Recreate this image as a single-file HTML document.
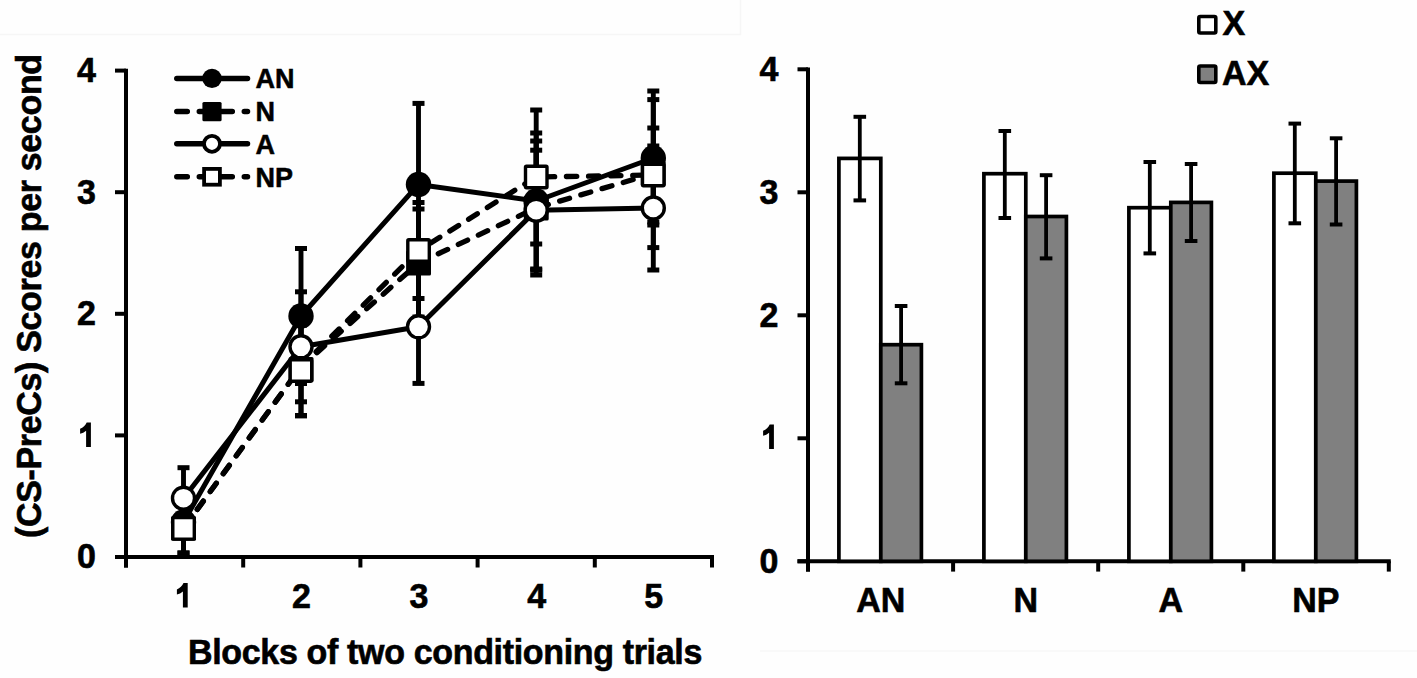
<!DOCTYPE html>
<html><head><meta charset="utf-8"><style>
html,body{margin:0;padding:0;background:#fff;}
svg{display:block;}
.ax{font-family:"Liberation Sans", sans-serif;font-weight:bold;font-size:34px;fill:#000;stroke:#000;stroke-width:0.6px;}
.lg{font-family:"Liberation Sans", sans-serif;font-weight:bold;font-size:27px;fill:#000;stroke:#000;stroke-width:0.5px;}
</style></head><body>
<svg width="1417" height="678" viewBox="0 0 1417 678">
<rect x="0" y="0" width="1417" height="678" fill="#fefefe"/>
<path d="M0 34.5 H740.5 V0" fill="none" stroke="#f6f6f6" stroke-width="1.5"/>
<line x1="760" y1="651" x2="1417" y2="651" stroke="#f7f7f7" stroke-width="1.5"/>
<line x1="126" y1="68.80000000000003" x2="126" y2="567.5" stroke="#000" stroke-width="4.0"/>
<line x1="115" y1="557.0" x2="126" y2="557.0" stroke="#000" stroke-width="4.0"/>
<text transform="translate(96.0,568.3) scale(1,1.05)" text-anchor="end" class="ax">0</text>
<line x1="115" y1="435.4" x2="126" y2="435.4" stroke="#000" stroke-width="4.0"/>
<path d="M90.9 422.4 L90.9 446.9 L86.1 446.9 L86.1 430.7 C84.3 432.3 82.3 433.3 80.1 433.7 L80.1 428.7 C83.1 427.5 85.5 425.5 86.7 422.4 Z" fill="#000"/>
<line x1="115" y1="313.8" x2="126" y2="313.8" stroke="#000" stroke-width="4.0"/>
<text transform="translate(96.0,325.1) scale(1,1.05)" text-anchor="end" class="ax">2</text>
<line x1="115" y1="192.2" x2="126" y2="192.2" stroke="#000" stroke-width="4.0"/>
<text transform="translate(96.0,203.5) scale(1,1.05)" text-anchor="end" class="ax">3</text>
<line x1="115" y1="70.6" x2="126" y2="70.6" stroke="#000" stroke-width="4.0"/>
<text transform="translate(96.0,81.9) scale(1,1.05)" text-anchor="end" class="ax">4</text>
<line x1="115" y1="557" x2="714" y2="557" stroke="#000" stroke-width="4.0"/>
<line x1="126.0" y1="557" x2="126.0" y2="567.5" stroke="#000" stroke-width="4.0"/>
<line x1="243.2" y1="557" x2="243.2" y2="567.5" stroke="#000" stroke-width="4.0"/>
<line x1="360.4" y1="557" x2="360.4" y2="567.5" stroke="#000" stroke-width="4.0"/>
<line x1="477.6" y1="557" x2="477.6" y2="567.5" stroke="#000" stroke-width="4.0"/>
<line x1="594.8" y1="557" x2="594.8" y2="567.5" stroke="#000" stroke-width="4.0"/>
<line x1="712.0" y1="557" x2="712.0" y2="567.5" stroke="#000" stroke-width="4.0"/>
<path d="M187.7 583.1 L187.7 607.6 L182.9 607.6 L182.9 591.4 C181.1 593.0 179.1 594.0 176.9 594.4 L176.9 589.4 C179.9 588.2 182.3 586.2 183.5 583.1 Z" fill="#000"/>
<text transform="translate(301.5,608.3) scale(1,1.05)" text-anchor="middle" class="ax">2</text>
<text transform="translate(419.0,608.3) scale(1,1.05)" text-anchor="middle" class="ax">3</text>
<text transform="translate(536.7,608.3) scale(1,1.05)" text-anchor="middle" class="ax">4</text>
<text transform="translate(653.8,608.3) scale(1,1.05)" text-anchor="middle" class="ax">5</text>
<text transform="translate(188,664) scale(1,1.05)" textLength="514.3" lengthAdjust="spacing" class="ax">Blocks of two conditioning trials</text>
<text transform="translate(40.8,296) rotate(-90) scale(1,1.05)" x="-242.1" y="0" textLength="484.2" lengthAdjust="spacing" class="ax">(CS-PreCs) Scores per second</text>
<line x1="183.5" y1="503.8" x2="183.5" y2="553.0" stroke="#000" stroke-width="4.9"/>
<rect x="177.5" y="501.3" width="12" height="5.0" fill="#000"/>
<rect x="177.5" y="550.5" width="12" height="5.0" fill="#000"/>
<line x1="301.0" y1="323.5" x2="301.0" y2="415.5" stroke="#000" stroke-width="4.9"/>
<rect x="295.0" y="321.0" width="12" height="5.0" fill="#000"/>
<rect x="295.0" y="413.0" width="12" height="5.0" fill="#000"/>
<line x1="418.5" y1="209.0" x2="418.5" y2="317.0" stroke="#000" stroke-width="4.9"/>
<rect x="412.5" y="206.5" width="12" height="5.0" fill="#000"/>
<rect x="412.5" y="314.5" width="12" height="5.0" fill="#000"/>
<line x1="536.2" y1="141.0" x2="536.2" y2="275.0" stroke="#000" stroke-width="4.9"/>
<rect x="530.2" y="138.5" width="12" height="5.0" fill="#000"/>
<rect x="530.2" y="272.5" width="12" height="5.0" fill="#000"/>
<line x1="653.3" y1="99.6" x2="653.3" y2="247.6" stroke="#000" stroke-width="4.9"/>
<rect x="647.3" y="97.1" width="12" height="5.0" fill="#000"/>
<rect x="647.3" y="245.1" width="12" height="5.0" fill="#000"/>
<line x1="183.5" y1="503.8" x2="183.5" y2="553.0" stroke="#000" stroke-width="4.9"/>
<rect x="177.5" y="501.3" width="12" height="5.0" fill="#000"/>
<rect x="177.5" y="550.5" width="12" height="5.0" fill="#000"/>
<line x1="301.0" y1="325.1" x2="301.0" y2="415.9" stroke="#000" stroke-width="4.9"/>
<rect x="295.0" y="322.6" width="12" height="5.0" fill="#000"/>
<rect x="295.0" y="413.4" width="12" height="5.0" fill="#000"/>
<line x1="418.5" y1="202.5" x2="418.5" y2="298.5" stroke="#000" stroke-width="4.9"/>
<rect x="412.5" y="200.0" width="12" height="5.0" fill="#000"/>
<rect x="412.5" y="296.0" width="12" height="5.0" fill="#000"/>
<line x1="536.2" y1="110.0" x2="536.2" y2="244.0" stroke="#000" stroke-width="4.9"/>
<rect x="530.2" y="107.5" width="12" height="5.0" fill="#000"/>
<rect x="530.2" y="241.5" width="12" height="5.0" fill="#000"/>
<line x1="653.3" y1="128.0" x2="653.3" y2="222.0" stroke="#000" stroke-width="4.9"/>
<rect x="647.3" y="125.5" width="12" height="5.0" fill="#000"/>
<rect x="647.3" y="219.5" width="12" height="5.0" fill="#000"/>
<line x1="183.5" y1="507.0" x2="183.5" y2="537.0" stroke="#000" stroke-width="4.9"/>
<rect x="177.5" y="504.5" width="12" height="5.0" fill="#000"/>
<rect x="177.5" y="534.5" width="12" height="5.0" fill="#000"/>
<line x1="301.0" y1="248.5" x2="301.0" y2="383.5" stroke="#000" stroke-width="4.9"/>
<rect x="295.0" y="246.0" width="12" height="5.0" fill="#000"/>
<rect x="295.0" y="381.0" width="12" height="5.0" fill="#000"/>
<line x1="418.5" y1="103.4" x2="418.5" y2="265.4" stroke="#000" stroke-width="4.9"/>
<rect x="412.5" y="100.9" width="12" height="5.0" fill="#000"/>
<rect x="412.5" y="262.9" width="12" height="5.0" fill="#000"/>
<line x1="536.2" y1="133.0" x2="536.2" y2="269.0" stroke="#000" stroke-width="4.9"/>
<rect x="530.2" y="130.5" width="12" height="5.0" fill="#000"/>
<rect x="530.2" y="266.5" width="12" height="5.0" fill="#000"/>
<line x1="653.3" y1="91.0" x2="653.3" y2="225.0" stroke="#000" stroke-width="4.9"/>
<rect x="647.3" y="88.5" width="12" height="5.0" fill="#000"/>
<rect x="647.3" y="222.5" width="12" height="5.0" fill="#000"/>
<line x1="183.5" y1="467.7" x2="183.5" y2="528.7" stroke="#000" stroke-width="4.9"/>
<rect x="177.5" y="465.2" width="12" height="5.0" fill="#000"/>
<rect x="177.5" y="526.2" width="12" height="5.0" fill="#000"/>
<line x1="301.0" y1="291.8" x2="301.0" y2="401.8" stroke="#000" stroke-width="4.9"/>
<rect x="295.0" y="289.3" width="12" height="5.0" fill="#000"/>
<rect x="295.0" y="399.3" width="12" height="5.0" fill="#000"/>
<line x1="418.5" y1="270.2" x2="418.5" y2="383.4" stroke="#000" stroke-width="4.9"/>
<rect x="412.5" y="267.7" width="12" height="5.0" fill="#000"/>
<rect x="412.5" y="380.9" width="12" height="5.0" fill="#000"/>
<line x1="536.2" y1="150.2" x2="536.2" y2="270.2" stroke="#000" stroke-width="4.9"/>
<rect x="530.2" y="147.7" width="12" height="5.0" fill="#000"/>
<rect x="530.2" y="267.7" width="12" height="5.0" fill="#000"/>
<line x1="653.3" y1="146.0" x2="653.3" y2="270.0" stroke="#000" stroke-width="4.9"/>
<rect x="647.3" y="143.5" width="12" height="5.0" fill="#000"/>
<rect x="647.3" y="267.5" width="12" height="5.0" fill="#000"/>
<line x1="183.5" y1="528.4" x2="301.0" y2="366.7" stroke="#000" stroke-width="5.3" stroke-dasharray="10.3 11.8" stroke-dashoffset="-1.35" stroke-linecap="round"/>
<line x1="301.0" y1="366.7" x2="418.5" y2="263" stroke="#000" stroke-width="5.3" stroke-dasharray="10.3 11.8" stroke-dashoffset="0.85" stroke-linecap="round"/>
<line x1="418.5" y1="263" x2="536.2" y2="208" stroke="#000" stroke-width="5.3" stroke-dasharray="10.3 11.8" stroke-dashoffset="0.25" stroke-linecap="round"/>
<line x1="536.2" y1="208" x2="653.3" y2="173.6" stroke="#000" stroke-width="5.3" stroke-dasharray="10.3 11.8" stroke-dashoffset="-2.35" stroke-linecap="round"/>
<line x1="183.5" y1="528.4" x2="301.0" y2="366.7" stroke="#000" stroke-width="5.3" stroke-dasharray="10.3 11.8" stroke-dashoffset="-1.35" stroke-linecap="round"/>
<line x1="301.0" y1="366.7" x2="418.5" y2="250.5" stroke="#000" stroke-width="5.3" stroke-dasharray="10.3 11.8" stroke-dashoffset="0.85" stroke-linecap="round"/>
<line x1="418.5" y1="250.5" x2="536.2" y2="177" stroke="#000" stroke-width="5.3" stroke-dasharray="10.3 11.8" stroke-dashoffset="-14.85" stroke-linecap="round"/>
<line x1="536.2" y1="177" x2="653.3" y2="175" stroke="#000" stroke-width="5.3" stroke-dasharray="10.3 11.8" stroke-dashoffset="-8.15" stroke-linecap="round"/>
<polyline points="183.5,522 301.0,316 418.5,184.4 536.2,201 653.3,158" fill="none" stroke="#000" stroke-width="5" stroke-linejoin="round"/>
<polyline points="183.5,498.2 301.0,346.8 418.5,326.8 536.2,210.2 653.3,208" fill="none" stroke="#000" stroke-width="5" stroke-linejoin="round"/>
<circle cx="183.5" cy="522" r="12.7" fill="#000"/>
<circle cx="301.0" cy="316" r="12.7" fill="#000"/>
<circle cx="418.5" cy="184.4" r="12.7" fill="#000"/>
<circle cx="536.2" cy="201" r="12.7" fill="#000"/>
<circle cx="653.3" cy="158" r="12.7" fill="#000"/>
<rect x="171.1" y="515.9" width="24.9" height="24.9" rx="1.5" fill="#000"/>
<rect x="288.6" y="357.1" width="24.9" height="24.9" rx="1.5" fill="#000"/>
<rect x="406.1" y="250.6" width="24.9" height="24.9" rx="1.5" fill="#000"/>
<rect x="523.8" y="195.6" width="24.9" height="24.9" rx="1.5" fill="#000"/>
<rect x="640.8" y="161.2" width="24.9" height="24.9" rx="1.5" fill="#000"/>
<circle cx="183.5" cy="498.2" r="11.0" fill="#fff" stroke="#000" stroke-width="3.4"/>
<circle cx="301.0" cy="346.8" r="11.0" fill="#fff" stroke="#000" stroke-width="3.4"/>
<circle cx="418.5" cy="326.8" r="11.0" fill="#fff" stroke="#000" stroke-width="3.4"/>
<circle cx="536.2" cy="210.2" r="11.0" fill="#fff" stroke="#000" stroke-width="3.4"/>
<circle cx="653.3" cy="208" r="11.0" fill="#fff" stroke="#000" stroke-width="3.4"/>
<rect x="172.8" y="517.6" width="21.5" height="21.5" rx="1" fill="#fff" stroke="#000" stroke-width="3.4"/>
<rect x="290.2" y="359.8" width="21.5" height="21.5" rx="1" fill="#fff" stroke="#000" stroke-width="3.4"/>
<rect x="407.8" y="239.8" width="21.5" height="21.5" rx="1" fill="#fff" stroke="#000" stroke-width="3.4"/>
<rect x="525.5" y="166.2" width="21.5" height="21.5" rx="1" fill="#fff" stroke="#000" stroke-width="3.4"/>
<rect x="642.5" y="164.2" width="21.5" height="21.5" rx="1" fill="#fff" stroke="#000" stroke-width="3.4"/>
<line x1="176.8" y1="78.4" x2="247.5" y2="78.4" stroke="#000" stroke-width="5.5" stroke-linecap="round"/>
<circle cx="212" cy="78.4" r="9.7" fill="#000"/>
<text transform="translate(255.5,88.2) scale(1,1.04)" class="lg">AN</text>
<line x1="176.8" y1="111.6" x2="247.5" y2="111.6" stroke="#000" stroke-width="5.5" stroke-linecap="round" stroke-dasharray="10.5 12"/>
<rect x="202.4" y="102.0" width="19.2" height="19.2" rx="1.5" fill="#000"/>
<text transform="translate(255.5,121.4) scale(1,1.04)" class="lg">N</text>
<line x1="176.8" y1="143.8" x2="247.5" y2="143.8" stroke="#000" stroke-width="5.5" stroke-linecap="round"/>
<circle cx="212" cy="143.8" r="8" fill="#fff" stroke="#000" stroke-width="3.8"/>
<text transform="translate(255.5,153.6) scale(1,1.04)" class="lg">A</text>
<line x1="176.8" y1="176.8" x2="247.5" y2="176.8" stroke="#000" stroke-width="5.5" stroke-linecap="round" stroke-dasharray="10.5 12"/>
<rect x="204.1" y="168.9" width="15.8" height="15.8" fill="#fff" stroke="#000" stroke-width="3.8"/>
<text transform="translate(255.5,186.6) scale(1,1.04)" class="lg">NP</text>
<line x1="808" y1="67.49999999999996" x2="808" y2="571.5999999999999" stroke="#000" stroke-width="4.0"/>
<line x1="797.5" y1="561.3" x2="808" y2="561.3" stroke="#000" stroke-width="4.0"/>
<text transform="translate(778.5,572.6) scale(1,1.05)" text-anchor="end" class="ax">0</text>
<line x1="797.5" y1="438.3" x2="808" y2="438.3" stroke="#000" stroke-width="4.0"/>
<path d="M773.9 424.4 L773.9 448.9 L769.1 448.9 L769.1 432.7 C767.3 434.3 765.3 435.3 763.1 435.7 L763.1 430.7 C766.1 429.5 768.5 427.5 769.7 424.4 Z" fill="#000"/>
<line x1="797.5" y1="315.3" x2="808" y2="315.3" stroke="#000" stroke-width="4.0"/>
<text transform="translate(778.5,326.6) scale(1,1.05)" text-anchor="end" class="ax">2</text>
<line x1="797.5" y1="192.3" x2="808" y2="192.3" stroke="#000" stroke-width="4.0"/>
<text transform="translate(778.5,203.6) scale(1,1.05)" text-anchor="end" class="ax">3</text>
<line x1="797.5" y1="69.3" x2="808" y2="69.3" stroke="#000" stroke-width="4.0"/>
<text transform="translate(778.5,80.6) scale(1,1.05)" text-anchor="end" class="ax">4</text>
<line x1="797.5" y1="561.3" x2="1390.8" y2="561.3" stroke="#000" stroke-width="4.0"/>
<line x1="808.0" y1="561.3" x2="808.0" y2="571.5999999999999" stroke="#000" stroke-width="4.0"/>
<line x1="953.1" y1="561.3" x2="953.1" y2="571.5999999999999" stroke="#000" stroke-width="4.0"/>
<line x1="1098.2" y1="561.3" x2="1098.2" y2="571.5999999999999" stroke="#000" stroke-width="4.0"/>
<line x1="1243.3" y1="561.3" x2="1243.3" y2="571.5999999999999" stroke="#000" stroke-width="4.0"/>
<line x1="1388.8" y1="561.3" x2="1388.8" y2="571.5999999999999" stroke="#000" stroke-width="4.0"/>
<text transform="translate(880.8,611.9) scale(1,1.05)" text-anchor="middle" class="ax">AN</text>
<text transform="translate(1025.8,611.9) scale(1,1.05)" text-anchor="middle" class="ax">N</text>
<text transform="translate(1170.8,611.9) scale(1,1.05)" text-anchor="middle" class="ax">A</text>
<text transform="translate(1315.8,611.9) scale(1,1.05)" text-anchor="middle" class="ax">NP</text>
<rect x="838.9" y="158.4" width="41.9" height="402.9" fill="#fff" stroke="#000" stroke-width="3.7"/>
<rect x="880.8" y="344.7" width="40.6" height="216.6" fill="#808080" stroke="#000" stroke-width="3.7"/>
<line x1="859.8" y1="116.8" x2="859.8" y2="200.4" stroke="#000" stroke-width="3.8"/>
<rect x="853.5" y="114.8" width="12.6" height="4" fill="#000"/>
<rect x="853.5" y="198.4" width="12.6" height="4" fill="#000"/>
<line x1="901.1" y1="306" x2="901.1" y2="383.3" stroke="#000" stroke-width="3.8"/>
<rect x="894.8" y="304.0" width="12.6" height="4" fill="#000"/>
<rect x="894.8" y="381.3" width="12.6" height="4" fill="#000"/>
<rect x="983.9" y="173.7" width="41.9" height="387.6" fill="#fff" stroke="#000" stroke-width="3.7"/>
<rect x="1025.8" y="216.5" width="40.6" height="344.8" fill="#808080" stroke="#000" stroke-width="3.7"/>
<line x1="1004.8" y1="131" x2="1004.8" y2="218" stroke="#000" stroke-width="3.8"/>
<rect x="998.5" y="129.0" width="12.6" height="4" fill="#000"/>
<rect x="998.5" y="216.0" width="12.6" height="4" fill="#000"/>
<line x1="1046.1" y1="175.2" x2="1046.1" y2="258.4" stroke="#000" stroke-width="3.8"/>
<rect x="1039.8" y="173.2" width="12.6" height="4" fill="#000"/>
<rect x="1039.8" y="256.4" width="12.6" height="4" fill="#000"/>
<rect x="1128.9" y="207.7" width="41.9" height="353.6" fill="#fff" stroke="#000" stroke-width="3.7"/>
<rect x="1170.8" y="202.4" width="40.6" height="358.9" fill="#808080" stroke="#000" stroke-width="3.7"/>
<line x1="1149.8" y1="162" x2="1149.8" y2="253.4" stroke="#000" stroke-width="3.8"/>
<rect x="1143.5" y="160.0" width="12.6" height="4" fill="#000"/>
<rect x="1143.5" y="251.4" width="12.6" height="4" fill="#000"/>
<line x1="1191.1" y1="164" x2="1191.1" y2="241" stroke="#000" stroke-width="3.8"/>
<rect x="1184.8" y="162.0" width="12.6" height="4" fill="#000"/>
<rect x="1184.8" y="239.0" width="12.6" height="4" fill="#000"/>
<rect x="1273.9" y="173.2" width="41.9" height="388.1" fill="#fff" stroke="#000" stroke-width="3.7"/>
<rect x="1315.8" y="181.1" width="40.6" height="380.2" fill="#808080" stroke="#000" stroke-width="3.7"/>
<line x1="1294.8" y1="123.6" x2="1294.8" y2="223.3" stroke="#000" stroke-width="3.8"/>
<rect x="1288.5" y="121.6" width="12.6" height="4" fill="#000"/>
<rect x="1288.5" y="221.3" width="12.6" height="4" fill="#000"/>
<line x1="1336.1" y1="138.3" x2="1336.1" y2="224.5" stroke="#000" stroke-width="3.8"/>
<rect x="1329.8" y="136.3" width="12.6" height="4" fill="#000"/>
<rect x="1329.8" y="222.5" width="12.6" height="4" fill="#000"/>
<rect x="1198.8" y="16.5" width="17" height="16.5" rx="1.5" fill="#fff" stroke="#000" stroke-width="3.6"/>
<rect x="1198.8" y="66" width="17" height="16.5" rx="1.5" fill="#808080" stroke="#000" stroke-width="3.6"/>
<text transform="translate(1222.5,35.4) scale(1,1.05)" class="ax">X</text>
<text transform="translate(1222.0,84.8) scale(1,1.05)" class="ax">AX</text>
</svg>
</body></html>
